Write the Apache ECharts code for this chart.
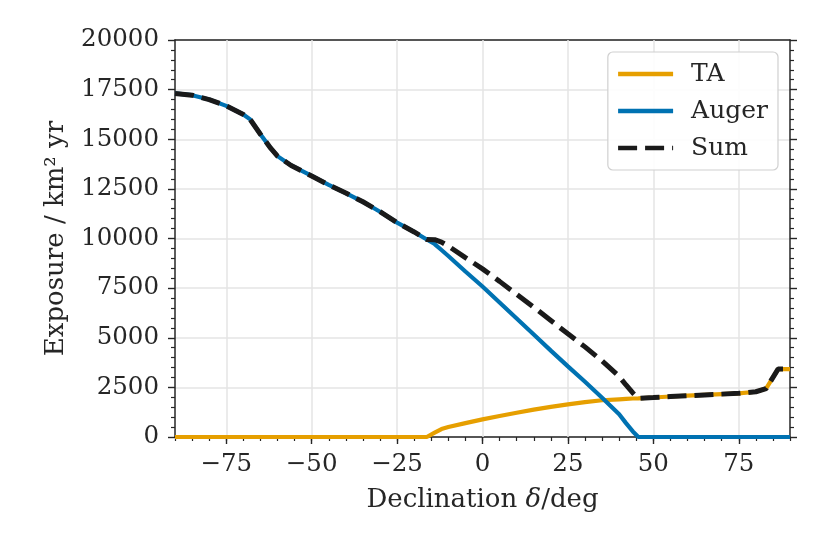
<!DOCTYPE html>
<html>
<head>
<meta charset="utf-8">
<script src="https://cdn.jsdelivr.net/npm/echarts@6/dist/echarts.min.js"></script>
<style>html,body{margin:0;padding:0;background:#fff}#c{width:830px;height:554px}</style>
</head>
<body>
<div id="c"></div>
<script>
const declination = [-90, -85, -80, -75, -70, -68, -65, -62, -60, -56, -50, -45, -40, -35, -30, -25, -20, -16.3, -14, -12, -10, -5, 0, 5, 10, 15, 20, 25, 30, 35, 40, 42, 44, 45.6, 50, 55, 60, 65, 70, 75, 80, 83, 86.5, 90];
const taValues = [0, 0, 0, 0, 0, 0, 0, 0, 0, 0, 0, 0, 0, 0, 0, 0, 0, 0, 220, 400, 500, 700, 890, 1060, 1220, 1380, 1520, 1640, 1760, 1850, 1900, 1920, 1940, 1950, 1990, 2040, 2080, 2120, 2160, 2200, 2280, 2440, 3420, 3420];
const augerValues = [17310, 17220, 17000, 16680, 16250, 16000, 15250, 14550, 14150, 13680, 13150, 12700, 12290, 11850, 11350, 10800, 10330, 9950, 9720, 9420, 9120, 8340, 7580, 6780, 5970, 5160, 4350, 3560, 2780, 1980, 1150, 700, 280, 0, 0, 0, 0, 0, 0, 0, 0, 0, 0, 0];
const sumValues = [17310, 17220, 17000, 16680, 16250, 16000, 15250, 14550, 14150, 13680, 13150, 12700, 12290, 11850, 11350, 10800, 10330, 9950, 9940, 9820, 9620, 9040, 8470, 7840, 7190, 6540, 5870, 5200, 4540, 3830, 3050, 2620, 2220, 1950, 1990, 2040, 2080, 2120, 2160, 2200, 2280, 2440, 3420, 3420];
const xTicks = [-75, -50, -25, 0, 25, 50, 75];
const yTicks = [0, 2500, 5000, 7500, 10000, 12500, 15000, 17500, 20000];

const pairs = (ys) => declination.map((x, i) => [x, ys[i]]);
const FONT = 'DejaVu Serif';
const TXT = '#262626';
const gridColor = '#e5e5e5';
const FS = 24.5;
const NS = 26;

const chart = echarts.init(document.getElementById('c'), null, {renderer: 'canvas'});
const option = {
  backgroundColor: '#fff',
  animation: false,
  grid: {left: 175, right: 40, top: 40, bottom: 117, containLabel: false},
  legend: {
    right: 52, top: 52,
    orient: 'vertical',
    backgroundColor: 'rgba(255,255,255,0.9)',
    borderColor: '#d0d0d0', borderWidth: 1.2, borderRadius: 5,
    padding: [8, 10, 8, 8],
    itemWidth: 55, itemHeight: 14, itemGap: 9,
    itemStyle: {opacity: 0},
    lineStyle: {width: 4.5},
    textStyle: {fontFamily: FONT, fontSize: 25, color: TXT, padding: [0, 0, 0, 13], lineHeight: 28},
    data: ['TA', 'Auger', 'Sum']
  },
  xAxis: [{
    type: 'value', min: -90, max: 90, interval: 5, position: 'bottom',
    axisLine: {show: true, onZero: false, lineStyle: {color: TXT, width: 1.5}},
    axisTick: {show: true, inside: false, length: 4, lineStyle: {color: TXT, width: 1.2}},
    axisLabel: {show: false},
    splitLine: {show: false}
  }, {
    type: 'value', min: -90, max: 90, interval: 5, position: 'bottom',
    axisLine: {show: false, onZero: false},
    axisTick: {show: true, inside: false, length: 7, customValues: xTicks, lineStyle: {color: TXT, width: 1.4}},
    axisLabel: {show: true, customValues: xTicks, fontFamily: FONT, fontSize: FS, color: TXT, margin: 15,
      formatter: v => String(v).replace('-', '\u2212')},
    splitLine: {show: false},
    name: 'Declination {i|\u03b4}/deg', nameLocation: 'middle', nameGap: 50,
    nameTextStyle: {fontFamily: FONT, fontSize: NS, color: TXT,
      rich: {i: {fontFamily: FONT, fontStyle: 'italic', fontSize: NS, color: TXT}}}
  }, {
    type: 'value', min: -90, max: 90, interval: 5, position: 'top',
    axisLine: {show: true, onZero: false, lineStyle: {color: TXT, width: 1.5}},
    axisTick: {show: false}, axisLabel: {show: false}, splitLine: {show: false}
  }],
  yAxis: [{
    type: 'value', min: 0, max: 20000, interval: 2500, position: 'left',
    axisLine: {show: true, onZero: false, lineStyle: {color: TXT, width: 1.5}},
    axisTick: {show: true, inside: false, length: 7, lineStyle: {color: TXT, width: 1.4}},
    minorTick: {show: true, splitNumber: 5, length: 4, lineStyle: {color: TXT, width: 1.2}},
    axisLabel: {show: true, customValues: yTicks, fontFamily: FONT, fontSize: FS, color: TXT, margin: 16,
      formatter: v => String(v)},
    splitLine: {show: true, lineStyle: {color: gridColor, width: 1.5}},
    name: 'Exposure / km\u00b2 yr', nameLocation: 'middle', nameGap: 106, nameRotate: 90,
    nameTextStyle: {fontFamily: FONT, fontSize: NS, color: TXT}
  }, {
    type: 'value', min: 0, max: 20000, interval: 2500, position: 'right',
    axisLine: {show: true, onZero: false, lineStyle: {color: TXT, width: 1.5}},
    axisTick: {show: true, inside: false, length: 7, lineStyle: {color: TXT, width: 1.4}},
    minorTick: {show: true, splitNumber: 5, length: 4, lineStyle: {color: TXT, width: 1.2}},
    axisLabel: {show: false}, splitLine: {show: false}
  }],
  series: [
    {name: 'TA', type: 'line', data: pairs(taValues), symbol: 'none', clip: false, z: 3,
     lineStyle: {color: '#E69F00', width: 4.2}, itemStyle: {color: '#E69F00'},
     markLine: {silent: true, symbol: 'none', label: {show: false}, z: 1,
       lineStyle: {color: gridColor, width: 1.5, type: 'solid'},
       data: xTicks.map(v => ({xAxis: v}))}},
    {name: 'Auger', type: 'line', data: pairs(augerValues), symbol: 'none', clip: false, z: 4,
     lineStyle: {color: '#0072B2', width: 4.2}, itemStyle: {color: '#0072B2'}},
    {name: 'Sum', type: 'line', data: pairs(sumValues), symbol: 'none', clip: false, z: 5,
     lineStyle: {color: '#1a1a1a', width: 5, type: [19, 8]}, itemStyle: {color: '#1a1a1a'}}
  ]
};
chart.setOption(option);
</script>
</body>
</html>
